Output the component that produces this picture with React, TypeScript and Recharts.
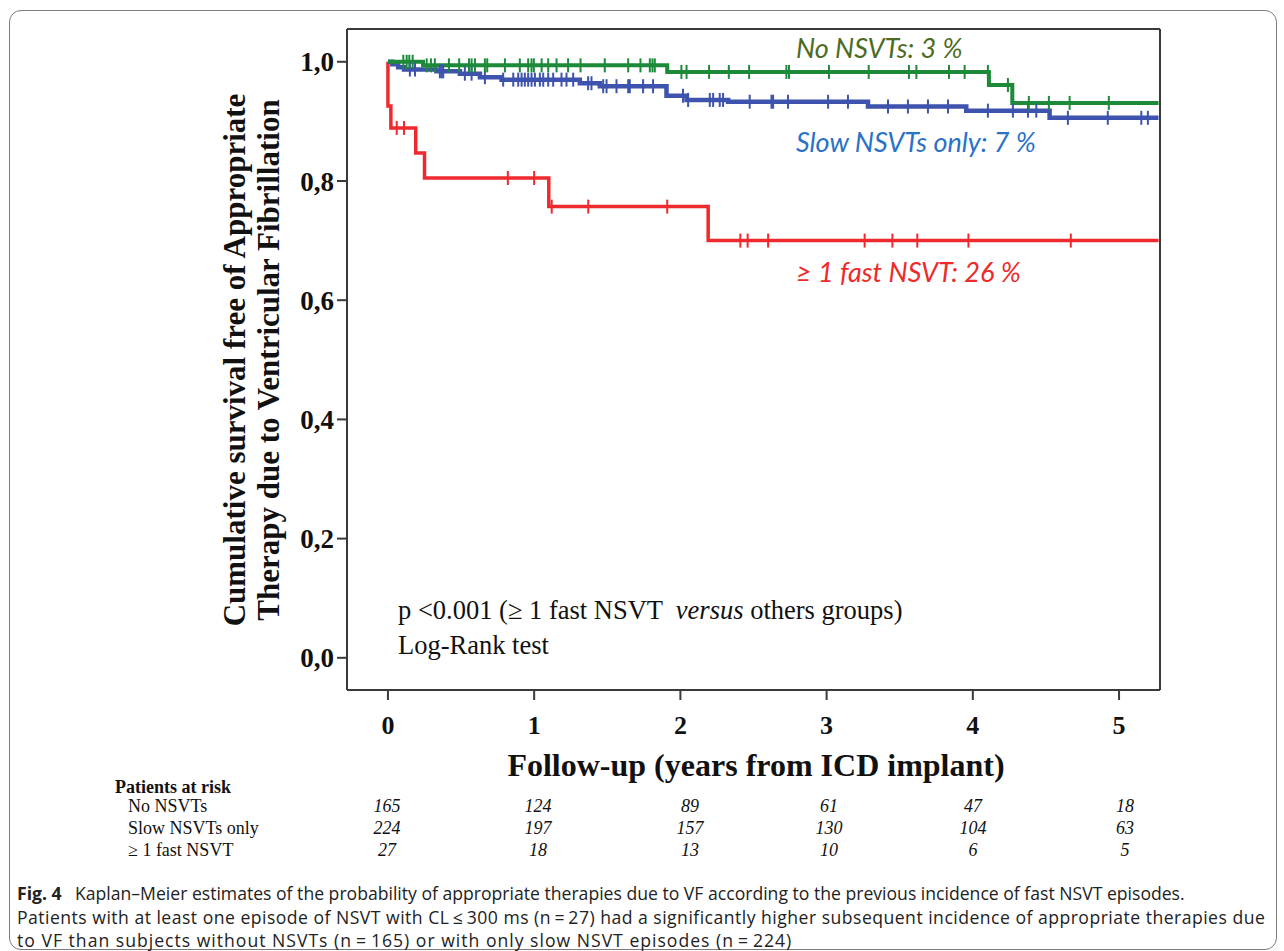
import React from 'react';
import { LineChart, Line, XAxis, YAxis, ReferenceLine } from 'recharts';

// follow-up in years, survival free of VF therapy
const years = [0, 1, 2, 3, 4, 5];
const survivalTicks = [0, 0.2, 0.4, 0.6, 0.8, 1.0];

// [time, survival] at each event (step) time
const noNsvtSteps = [
	[0, 1],
	[0.24, 0.994],
	[1.91, 0.983],
	[4.11, 0.961],
	[4.27, 0.931],
	[5.27, 0.931],
];
const noNsvtCensored = [
	0.105, 0.128, 0.146, 0.169, 0.265, 0.294, 0.321, 0.417, 0.487, 0.554, 0.572,
	0.595, 0.663, 0.679, 0.8, 0.902, 0.959, 0.982, 0.998, 1.051, 1.096, 1.153,
	1.232, 1.317, 1.483, 1.643, 1.727, 1.791, 1.809, 1.825, 2.007, 2.042, 2.196,
	2.331, 2.47, 2.725, 2.743, 3.016, 3.288, 3.563, 3.614, 3.837, 3.944, 4.103,
	4.24, 4.383, 4.52, 4.662, 4.93,
];

const slowSteps = [
	[0, 1],
	[0.03, 0.996],
	[0.07, 0.991],
	[0.11, 0.987],
	[0.332, 0.984],
	[0.492, 0.98],
	[0.629, 0.974],
	[0.777, 0.97],
	[1.312, 0.964],
	[1.449, 0.959],
	[1.905, 0.943],
	[2.042, 0.936],
	[2.327, 0.933],
	[3.283, 0.925],
	[3.955, 0.918],
	[4.525, 0.906],
	[5.27, 0.906],
];
const slowCensored = [
	0.15, 0.185, 0.355, 0.367, 0.378, 0.526, 0.572, 0.663, 0.788, 0.857, 0.891,
	0.914, 0.936, 0.959, 0.982, 1.005, 1.039, 1.062, 1.096, 1.13, 1.187, 1.221,
	1.267, 1.369, 1.392, 1.472, 1.495, 1.563, 1.643, 1.654, 1.745, 1.813, 2.018,
	2.053, 2.201, 2.224, 2.269, 2.292, 2.474, 2.623, 2.634, 2.736, 3.01, 3.146,
	3.42, 3.556, 3.693, 3.83, 4.103, 4.274, 4.377, 4.434, 4.65, 4.923, 5.152,
	5.197,
];

const fastSteps = [
	[0, 1],
	[0, 0.926],
	[0.02, 0.889],
	[0.19, 0.847],
	[0.25, 0.805],
	[1.1, 0.757],
	[2.19, 0.7],
	[5.27, 0.7],
];
const fastCensored = [
	0.06, 0.11, 0.82, 1.0, 1.12, 1.37, 1.91, 2.41, 2.46, 2.6, 3.26, 3.45, 3.62,
	3.97, 4.67,
];

// patients at risk table
const riskGroups = ['No NSVTs', 'Slow NSVTs only', '\u2265 1 fast NSVT'];
const riskNoNsvt = [165, 124, 89, 61, 47, 18];
const riskSlow = [224, 197, 157, 130, 104, 63];
const riskFast = [27, 18, 13, 10, 6, 5];

const captionLines = [
	'Kaplan\u2013Meier estimates of the probability of appropriate therapies due to VF according to the previous incidence of fast NSVT episodes.',
	'Patients with at least one episode of NSVT with CL\u2009\u2264\u2009300\u00a0ms (n\u2009=\u200927) had a significantly higher subsequent incidence of appropriate therapies due',
	'to VF than subjects without NSVTs (n\u2009=\u2009165) or with only slow NSVT episodes (n\u2009=\u2009224)',
];

const GREEN = '#1d8a3a';
const BLUE = '#3d53ad';
const RED = '#ef2a2e';
const AXIS = '#3a3a3a';
const SERIF = '"Liberation Serif", "Times New Roman", serif';
const SANS = 'Lato, "Open Sans", sans-serif';

type Pt = { t: number; s: number; c: boolean };

function kmPoints(steps: number[][], censored: number[]): Pt[] {
	const pts: Pt[] = steps.map(([t, s]) => ({ t, s, c: false }));
	censored.forEach((t) => {
		let s = steps[0][1];
		steps.forEach(([st, sv]) => {
			if (st <= t) s = sv;
		});
		pts.push({ t, s, c: true });
	});
	return pts.sort((a, b) => a.t - b.t);
}

const censorDot = (color: string) => (props: any) => {
	const { cx, cy, payload, index } = props;
	if (!payload || !payload.c) return <g key={`e-${index}`} />;
	return (
		<line
			key={`c-${index}`}
			x1={cx}
			x2={cx}
			y1={cy - 7}
			y2={cy + 7}
			stroke={color}
			strokeWidth={2}
		/>
	);
};

const riskCols = [387, 538, 690, 829, 973, 1125];
const riskRowsY = [806, 828, 850];
const captionSpacing = [0, 0.48, 1.0];

const labelStyle = (top: number, color: string): React.CSSProperties => ({
	position: 'absolute',
	left: 796,
	top,
	fontFamily: SANS,
	fontStyle: 'italic',
	fontSize: 27,
	lineHeight: '30px',
	color,
	whiteSpace: 'nowrap',
});

export default function App() {
	const green = kmPoints(noNsvtSteps, noNsvtCensored);
	const blue = kmPoints(slowSteps, slowCensored);
	const red = kmPoints(fastSteps, fastCensored);
	const riskValues = [riskNoNsvt, riskSlow, riskFast];

	return (
		<div
			style={{
				position: 'absolute',
				left: 0,
				top: 0,
				width: 1284,
				height: 951,
				background: '#fff',
				overflow: 'hidden',
			}}
		>
			{/* figure frame */}
			<div
				style={{
					position: 'absolute',
					left: 9,
					top: 10,
					width: 1266,
					height: 938,
					border: '1.5px solid #7c7c7c',
					borderRadius: 12,
				}}
			/>
			<div style={{ position: 'absolute', left: 0, top: 0 }}>
				<LineChart
					width={1284}
					height={951}
					margin={{ top: 29, right: 124, bottom: 221, left: 287 }}
				>
					<XAxis
						type="number"
						dataKey="t"
						domain={[-0.28, 5.28]}
						ticks={years}
						allowDataOverflow
						height={40}
						axisLine={{ stroke: AXIS, strokeWidth: 2 }}
						tickLine={{ stroke: AXIS, strokeWidth: 2 }}
						tickSize={10}
						tickMargin={16}
						tick={{
							fontSize: 26,
							fontWeight: 'bold',
							fill: '#111',
							fontFamily: SERIF,
						}}
					/>
					<YAxis
						type="number"
						domain={[-0.054, 1.055]}
						ticks={survivalTicks}
						allowDataOverflow
						width={60}
						axisLine={{ stroke: AXIS, strokeWidth: 2 }}
						tickLine={{ stroke: AXIS, strokeWidth: 2 }}
						tickSize={10}
						tickMargin={3}
						tickFormatter={(v: number) => v.toFixed(1).replace('.', ',')}
						tick={{
							fontSize: 27,
							fontWeight: 'bold',
							fill: '#111',
							fontFamily: SERIF,
						}}
					/>
					<ReferenceLine y={1.055} stroke={AXIS} strokeWidth={2} />
					<ReferenceLine x={5.28} stroke={AXIS} strokeWidth={2} />
					<Line
						data={red}
						dataKey="s"
						type="stepAfter"
						stroke={RED}
						strokeWidth={3.5}
						dot={censorDot(RED)}
						activeDot={false}
						isAnimationActive={false}
					/>
					<Line
						data={blue}
						dataKey="s"
						type="stepAfter"
						stroke={BLUE}
						strokeWidth={4.5}
						dot={censorDot(BLUE)}
						activeDot={false}
						isAnimationActive={false}
					/>
					<Line
						data={green}
						dataKey="s"
						type="stepAfter"
						stroke={GREEN}
						strokeWidth={4}
						dot={censorDot(GREEN)}
						activeDot={false}
						isAnimationActive={false}
					/>
				</LineChart>
			</div>

			{/* y axis title */}
			<div
				style={{
					position: 'absolute',
					left: 254 - 300,
					top: 360 - 36,
					width: 600,
					height: 72,
					transform: 'rotate(-90deg)',
					textAlign: 'center',
					fontFamily: SERIF,
					fontWeight: 'bold',
					fontSize: 31,
					lineHeight: '34px',
					color: '#111',
				}}
			>
				Cumulative survival free of Appropriate
				<br />
				Therapy due to Ventricular Fibrillation
			</div>

			{/* x axis title */}
			<div
				style={{
					position: 'absolute',
					left: 456,
					top: 746,
					width: 600,
					textAlign: 'center',
					fontFamily: SERIF,
					fontWeight: 'bold',
					fontSize: 32,
					lineHeight: '38px',
					color: '#111',
				}}
			>
				Follow-up (years from ICD implant)
			</div>

			{/* curve labels */}
			<div style={labelStyle(33, '#4e6b23')}>No NSVTs: 3 %</div>
			<div style={labelStyle(127, '#2a72c8')}>Slow NSVTs only: 7 %</div>
			<div style={labelStyle(257, '#ee2a2a')}>
				{'\u2265 1 fast NSVT: 26 %'}
			</div>

			{/* test annotation */}
			<div
				style={{
					position: 'absolute',
					left: 398,
					top: 593,
					fontFamily: SERIF,
					fontSize: 26.5,
					lineHeight: '35px',
					color: '#111',
					whiteSpace: 'pre',
				}}
			>
				{'p <0.001 (\u2265 1 fast NSVT  '}
				<i>versus</i>
				{' others groups)'}
				<br />
				Log-Rank test
			</div>

			{/* patients at risk */}
			<div
				style={{
					position: 'absolute',
					left: 115,
					top: 776,
					fontFamily: SERIF,
					fontWeight: 'bold',
					fontSize: 18,
					lineHeight: '22px',
					color: '#111',
					whiteSpace: 'nowrap',
				}}
			>
				Patients at risk
			</div>
			{riskGroups.map((g, i) => (
				<React.Fragment key={g}>
					<div
						style={{
							position: 'absolute',
							left: 128,
							top: riskRowsY[i] - 11,
							fontFamily: SERIF,
							fontSize: 18,
							lineHeight: '22px',
							color: '#111',
							whiteSpace: 'nowrap',
						}}
					>
						{g}
					</div>
					{riskValues[i].map((v, j) => (
						<div
							key={j}
							style={{
								position: 'absolute',
								left: riskCols[j] - 40,
								width: 80,
								top: riskRowsY[i] - 11,
								textAlign: 'center',
								fontFamily: SERIF,
								fontStyle: 'italic',
								fontSize: 18,
								lineHeight: '22px',
								color: '#111',
							}}
						>
							{v}
						</div>
					))}
				</React.Fragment>
			))}

			{/* caption */}
			{captionLines.map((line, i) => (
				<div
					key={i}
					style={{
						position: 'absolute',
						left: 17,
						top: 882 + i * 23.5,
						fontFamily: '"Open Sans", sans-serif',
						fontSize: 17.6,
						lineHeight: '23.5px',
						letterSpacing: captionSpacing[i],
						color: '#222',
						whiteSpace: 'nowrap',
					}}
				>
					{i === 0 && <b>Fig. 4</b>}
					{i === 0 ? '\u2002 ' + line : line}
				</div>
			))}
		</div>
	);
}
